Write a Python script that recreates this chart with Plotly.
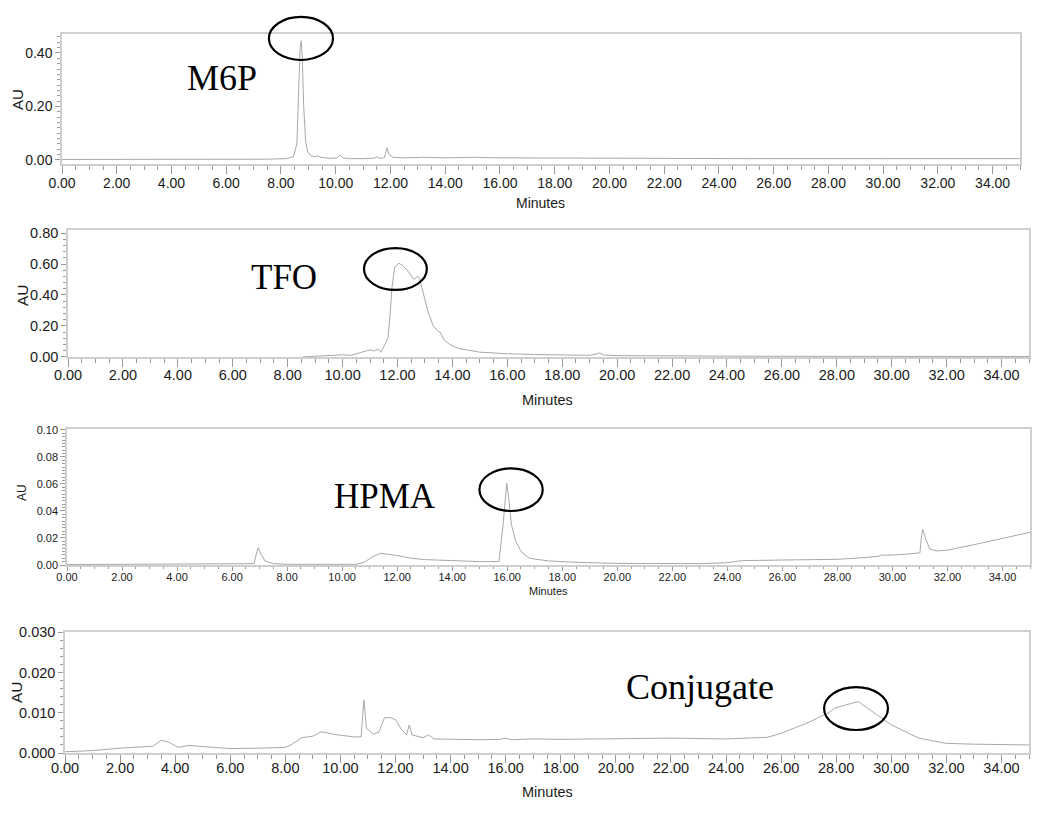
import plotly.graph_objects as go

# --- chromatogram data (minutes, AU) ---
m6p_t = [0, 2, 4, 6, 7.5, 8.2, 8.45, 8.58, 8.65, 8.70, 8.74, 8.78, 8.83, 8.9, 8.98, 9.1, 9.25,
         9.32, 9.45, 9.8, 10.05, 10.15, 10.28, 10.5, 11.0, 11.4, 11.5, 11.6, 11.78, 11.87, 11.95,
         12.1, 12.5, 13.0, 13.2, 14.0, 15.0, 16.0, 18.0, 20.0, 25.0, 30.0, 35.0]
m6p_au = [0.002, 0.002, 0.002, 0.002, 0.003, 0.005, 0.012, 0.06, 0.25, 0.42, 0.446, 0.38, 0.2,
          0.07, 0.03, 0.015, 0.012, 0.016, 0.01, 0.006, 0.008, 0.018, 0.008, 0.005, 0.005, 0.007,
          0.012, 0.006, 0.008, 0.045, 0.02, 0.01, 0.008, 0.009, 0.01, 0.008, 0.01, 0.008, 0.007,
          0.006, 0.005, 0.005, 0.005]

tfo_t = [8.55, 9.0, 9.4, 9.7, 10.0, 10.3, 10.5, 10.7, 10.9, 11.0, 11.15, 11.3, 11.4, 11.5, 11.65,
         11.72, 11.8, 11.9, 12.05, 12.2, 12.4, 12.6, 12.72, 12.8, 12.95, 13.1, 13.3, 13.45,
         13.55, 13.7, 13.9, 14.2, 15.0, 16.0, 17.0, 18.0, 19.0, 19.25, 19.37, 19.5, 20.0, 25.0, 35.0]
tfo_au = [0.0, 0.004, 0.008, 0.006, 0.013, 0.01, 0.022, 0.03, 0.04, 0.045, 0.038, 0.05, 0.03,
          0.07, 0.12, 0.25, 0.45, 0.58, 0.605, 0.59, 0.55, 0.50, 0.52, 0.51, 0.40, 0.30, 0.20,
          0.17, 0.16, 0.11, 0.08, 0.055, 0.03, 0.02, 0.015, 0.012, 0.01, 0.018, 0.026, 0.012,
          0.008, 0.004, 0.002]

hpma_t = [0, 2, 3, 4, 5, 6, 6.8, 6.9, 6.95, 7.05, 7.2, 7.5, 8.0, 10.5, 10.8, 11.1, 11.4, 12.0,
          12.5, 13.0, 14.0, 15.0, 15.7, 15.85, 15.98, 16.05, 16.15, 16.3, 16.5, 16.8, 17.5,
          18.5, 20.0, 22.0, 23.0, 24.0, 24.5, 26.0, 28.0, 29.0, 29.5, 29.6, 29.8, 30.5, 31.0,
          31.05, 31.1, 31.2, 31.35, 31.6, 32.0, 33.0, 34.0, 35.0]
hpma_au = [0.0003, 0.0004, 0.0007, 0.0009, 0.0008, 0.0006, 0.001, 0.01, 0.0128, 0.008, 0.003,
           0.001, 0.0005, 0.0005, 0.002, 0.006, 0.0087, 0.007, 0.005, 0.004, 0.003, 0.0025,
           0.0025, 0.03, 0.0605, 0.05, 0.03, 0.018, 0.01, 0.005, 0.003, 0.002, 0.0012, 0.0007,
           0.001, 0.0017, 0.0032, 0.0037, 0.0042, 0.0055, 0.0065, 0.0075, 0.0072, 0.008, 0.009,
           0.02, 0.0265, 0.02, 0.012, 0.0104, 0.011, 0.0152, 0.0195, 0.0242]

conj_t = [0, 1, 2, 3.2, 3.5, 3.8, 4.1, 4.5, 5.0, 6.0, 7.0, 8.0, 8.2, 8.6, 9.0, 9.3, 9.8, 10.5,
          10.75, 10.85, 10.95, 11.2, 11.4, 11.6, 11.8, 12.0, 12.2, 12.4, 12.5, 12.6, 13.0, 13.2,
          13.4, 14.0, 15.0, 15.8, 16.0, 16.2, 17.0, 18.0, 20.0, 22.0, 24.0, 25.5, 26.0, 27.0,
          27.8, 27.95, 28.8, 29.5, 30.0, 31.0, 32.0, 33.0, 34.0, 35.0]
conj_au = [0.0003, 0.0006, 0.0012, 0.0017, 0.0032, 0.0026, 0.0014, 0.0019, 0.0016, 0.0011,
           0.0012, 0.0014, 0.002, 0.0038, 0.0042, 0.0053, 0.0046, 0.004, 0.004, 0.0132, 0.006,
           0.0047, 0.0052, 0.0088, 0.0088, 0.0083, 0.006, 0.0045, 0.007, 0.0045, 0.0038, 0.0045,
           0.0035, 0.0034, 0.0033, 0.0034, 0.0037, 0.0033, 0.0035, 0.0034, 0.0036, 0.0037,
           0.0035, 0.0039, 0.0049, 0.0076, 0.0103, 0.0112, 0.0128, 0.0093, 0.007, 0.0037,
           0.0024, 0.0022, 0.0021, 0.002]

labels = ["M6P", "TFO", "HPMA", "Conjugate"]

# the page body has an 8px margin, so the figure starts at (8, 8) in the window
OFF = 8
W, H = 1050 - 2 * OFF, 815 - 2 * OFF
SANS = "Liberation Sans, Arial"
line_col = "#cfcfcf"
tick_col = "#9a9a9a"
trace_col = "#a8a8a8"


def px_x(x):
    return (x - OFF) / W


def px_y(y):
    return 1 - (y - OFF) / H


# panel boxes in window pixels: left, right, top, bottom
panels = [
    dict(t=m6p_t, y=m6p_au, box=(62, 1020, 34, 164), yr=[-0.015, 0.471], ydt=0.2, ymin=0.02,
         yfmt=".2f", fs=14, xtl=8, xso=-3, au=(17, 100), mins=(540, 203),
         lab=(222, 78, 36), ell=([7.56, 9.90], [0.80, 1.131])),
    dict(t=tfo_t, y=tfo_au, box=(68, 1029, 230, 357), yr=[-0.001, 0.82], ydt=0.2, ymin=0.04,
         yfmt=".2f", fs=14.5, xtl=8, xso=-4, au=(22, 295), mins=(547, 400),
         lab=(284, 277, 35), ell=([10.78, 13.07], [0.528, 0.858])),
    dict(t=hpma_t, y=hpma_au, box=(67, 1030, 429, 565), yr=[0, 0.1007], ydt=0.02, ymin=0.0025,
         yfmt=".2f", fs=11, xtl=4, xso=-3, au=(22, 493), mins=(548, 591),
         lab=(385, 496, 35), ell=([14.99, 17.29], [0.397, 0.711])),
    dict(t=conj_t, y=conj_au, box=(65, 1029, 632, 753), yr=[0, 0.0301], ydt=0.01, ymin=0.002,
         yfmt=".3f", fs=14.5, xtl=8, xso=-7, au=(16, 692), mins=(547, 792),
         lab=(700, 687, 36), ell=([27.56, 29.88], [0.19, 0.545])),
]

fig = go.Figure()
layout = dict(width=W, height=H, margin=dict(l=0, r=0, t=0, b=0, autoexpand=False),
              paper_bgcolor="white", plot_bgcolor="white", showlegend=False)
annotations = []
shapes = []

for i, (p, name) in enumerate(zip(panels, labels)):
    n = "" if i == 0 else str(i + 1)
    l, r, t, b = p["box"]
    fig.add_trace(go.Scatter(x=p["t"], y=p["y"], mode="lines", xaxis="x" + n, yaxis="y" + n,
                             line=dict(color=trace_col, width=1), hoverinfo="skip"))
    tf = dict(family=SANS, size=p["fs"], color="#1a1a1a")
    layout["xaxis" + n] = dict(
        domain=[px_x(l), px_x(r)], anchor="y" + n, range=[0, 35], automargin=False,
        tickmode="linear", tick0=0, dtick=2, tickformat=".2f",
        ticks="outside", ticklen=p["xtl"], tickcolor=tick_col, tickfont=tf,
        ticklabelstandoff=p["xso"],
        minor=dict(dtick=0.5, ticks="outside", ticklen=max(2, p["xtl"] // 2), tickcolor=tick_col),
        showline=True, linecolor=line_col, linewidth=1.5, mirror=True,
        showgrid=False, zeroline=False)
    layout["yaxis" + n] = dict(
        domain=[px_y(b), px_y(t)], anchor="x" + n, range=p["yr"], automargin=False,
        tickmode="linear", tick0=0, dtick=p["ydt"], tickformat=p["yfmt"],
        ticks="outside", ticklen=5, tickcolor=tick_col, tickfont=tf,
        minor=dict(dtick=p["ymin"], ticks="outside", ticklen=3, tickcolor=tick_col),
        showline=True, linecolor=line_col, linewidth=1.5, mirror=True,
        showgrid=False, zeroline=False)
    # axis titles
    annotations.append(dict(text="AU", x=px_x(p["au"][0]), y=px_y(p["au"][1]),
                            xref="paper", yref="paper", xanchor="center", yanchor="middle",
                            showarrow=False, textangle=-90,
                            font=dict(family=SANS, size=p["fs"] + 1, color="#1a1a1a")))
    annotations.append(dict(text="Minutes", x=px_x(p["mins"][0]), y=px_y(p["mins"][1]),
                            xref="paper", yref="paper", xanchor="center", yanchor="middle",
                            showarrow=False,
                            font=dict(family=SANS, size=p["fs"], color="#1a1a1a")))
    # peak label
    lx, ly, ls = p["lab"]
    annotations.append(dict(text=name, x=px_x(lx), y=px_y(ly), xref="paper", yref="paper",
                            xanchor="center", yanchor="middle", showarrow=False,
                            font=dict(family="Liberation Serif, Times New Roman", size=ls,
                                      color="black")))
    # circled peak
    ex, ey = p["ell"]
    shapes.append(dict(type="circle", xref="x" + n, yref="y" + n + " domain",
                       x0=ex[0], x1=ex[1], y0=ey[0], y1=ey[1],
                       line=dict(color="black", width=2.2)))

layout["annotations"] = annotations
layout["shapes"] = shapes
fig.update_layout(**layout)
fig.write_html("out.html")
